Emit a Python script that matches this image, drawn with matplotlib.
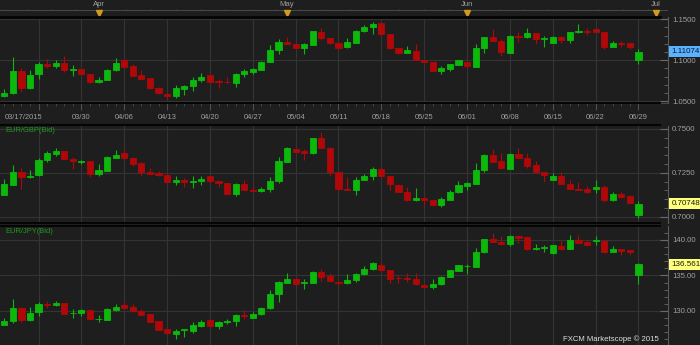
"""FXCM Marketscope style 3-pane daily candle chart: EUR/USD, EUR/GBP, EUR/JPY."""
import numpy as np
import pandas as pd
import matplotlib
matplotlib.use('Agg')
import matplotlib.pyplot as plt
import matplotlib.transforms as mtransforms
from matplotlib.ticker import MultipleLocator, FormatStrFormatter

plt.rcParams['font.family'] = ['Liberation Sans', 'DejaVu Sans']

# trading days shown (weekdays 03/17 .. 06/29/2015)
dates = pd.bdate_range('2015-03-17', '2015-06-29')

# EUR/USD daily OHLC
usd_open = [1.0565, 1.0598, 1.0866, 1.0659, 1.0837, 1.0955, 1.0927, 1.0972, 1.0886, 1.0890,
            1.0833, 1.0732, 1.0760, 1.0882, 1.1004, 1.0927, 1.0817, 1.0780, 1.0663, 1.0590,
            1.0565, 1.0654, 1.0687, 1.0760, 1.0817, 1.0748, 1.0740, 1.0728, 1.0829, 1.0862,
            1.0882, 1.0980, 1.1126, 1.1224, 1.1195, 1.1150, 1.1191, 1.1350, 1.1272, 1.1207,
            1.1159, 1.1215, 1.1354, 1.1411, 1.1451, 1.1321, 1.1150, 1.1093, 1.1118, 1.1004,
            1.0984, 1.0874, 1.0898, 1.0943, 1.0984, 1.0923, 1.1146, 1.1280, 1.1236, 1.1093,
            1.1301, 1.1280, 1.1329, 1.1260, 1.1211, 1.1285, 1.1248, 1.1341, 1.1358, 1.1382,
            1.1346, 1.1167, 1.1207, 1.1207, 1.1004]
usd_high = [1.0650, 1.1037, 1.0911, 1.0878, 1.0980, 1.1020, 1.1008, 1.1053, 1.0939, 1.0894,
            1.0837, 1.0797, 1.0894, 1.1024, 1.1028, 1.0951, 1.0882, 1.0789, 1.0671, 1.0590,
            1.0699, 1.0703, 1.0801, 1.0846, 1.0821, 1.0772, 1.0793, 1.0846, 1.0898, 1.0907,
            1.0992, 1.1183, 1.1264, 1.1280, 1.1207, 1.1215, 1.1358, 1.1390, 1.1276, 1.1207,
            1.1276, 1.1370, 1.1431, 1.1467, 1.1451, 1.1325, 1.1154, 1.1179, 1.1203, 1.1004,
            1.0984, 1.0927, 1.0959, 1.1004, 1.0988, 1.1195, 1.1285, 1.1378, 1.1256, 1.1305,
            1.1346, 1.1390, 1.1333, 1.1297, 1.1293, 1.1293, 1.1350, 1.1439, 1.1394, 1.1386,
            1.1350, 1.1236, 1.1232, 1.1220, 1.1138]
usd_low = [1.0557, 1.0590, 1.0618, 1.0650, 1.0776, 1.0911, 1.0911, 1.0862, 1.0809, 1.0833,
           1.0720, 1.0720, 1.0756, 1.0870, 1.0919, 1.0809, 1.0772, 1.0654, 1.0594, 1.0520,
           1.0545, 1.0577, 1.0630, 1.0736, 1.0736, 1.0667, 1.0720, 1.0671, 1.0793, 1.0829,
           1.0878, 1.0980, 1.1081, 1.1195, 1.1146, 1.1073, 1.1187, 1.1248, 1.1195, 1.1154,
           1.1146, 1.1207, 1.1346, 1.1325, 1.1313, 1.1134, 1.1073, 1.1085, 1.1004, 1.0980,
           1.0870, 1.0829, 1.0874, 1.0939, 1.0907, 1.0919, 1.1089, 1.1232, 1.1057, 1.1093,
           1.1224, 1.1272, 1.1195, 1.1163, 1.1207, 1.1215, 1.1207, 1.1337, 1.1305, 1.1346,
           1.1142, 1.1163, 1.1163, 1.1138, 1.0959]
usd_close = [1.0602, 1.0866, 1.0663, 1.0817, 1.0955, 1.0927, 1.0972, 1.0886, 1.0894, 1.0837,
             1.0732, 1.0764, 1.0882, 1.0972, 1.0923, 1.0813, 1.0776, 1.0659, 1.0598, 1.0569,
             1.0659, 1.0691, 1.0764, 1.0801, 1.0740, 1.0736, 1.0732, 1.0833, 1.0870, 1.0894,
             1.0984, 1.1130, 1.1224, 1.1195, 1.1150, 1.1195, 1.1354, 1.1272, 1.1211, 1.1154,
             1.1220, 1.1358, 1.1411, 1.1447, 1.1317, 1.1154, 1.1093, 1.1122, 1.1008, 1.0984,
             1.0874, 1.0907, 1.0951, 1.1000, 1.0927, 1.1150, 1.1280, 1.1236, 1.1106, 1.1297,
             1.1289, 1.1329, 1.1256, 1.1268, 1.1289, 1.1248, 1.1341, 1.1358, 1.1350, 1.1346,
             1.1167, 1.1207, 1.1199, 1.1167, 1.1107]

# EUR/GBP daily OHLC
gbp_open = [0.7124, 0.7183, 0.7255, 0.7226, 0.7238, 0.7321, 0.7357, 0.7375, 0.7331, 0.7314,
            0.7318, 0.7245, 0.7262, 0.7337, 0.7363, 0.7337, 0.7304, 0.7253, 0.7247, 0.7240,
            0.7198, 0.7209, 0.7198, 0.7202, 0.7230, 0.7203, 0.7192, 0.7127, 0.7186, 0.7152,
            0.7146, 0.7156, 0.7202, 0.7314, 0.7388, 0.7375, 0.7361, 0.7449, 0.7394, 0.7253,
            0.7158, 0.7152, 0.7211, 0.7232, 0.7274, 0.7232, 0.7183, 0.7139, 0.7093, 0.7107,
            0.7095, 0.7065, 0.7097, 0.7139, 0.7177, 0.7186, 0.7266, 0.7352, 0.7318, 0.7272,
            0.7356, 0.7337, 0.7293, 0.7257, 0.7209, 0.7234, 0.7188, 0.7160, 0.7156, 0.7156,
            0.7167, 0.7097, 0.7131, 0.7116, 0.7011]
gbp_high = [0.7215, 0.7295, 0.7278, 0.7264, 0.7337, 0.7376, 0.7390, 0.7376, 0.7342, 0.7325,
            0.7319, 0.7300, 0.7348, 0.7380, 0.7380, 0.7338, 0.7314, 0.7278, 0.7262, 0.7243,
            0.7234, 0.7222, 0.7232, 0.7232, 0.7232, 0.7207, 0.7194, 0.7194, 0.7211, 0.7173,
            0.7169, 0.7224, 0.7338, 0.7395, 0.7388, 0.7388, 0.7451, 0.7485, 0.7395, 0.7255,
            0.7224, 0.7226, 0.7241, 0.7283, 0.7276, 0.7234, 0.7186, 0.7167, 0.7162, 0.7109,
            0.7095, 0.7112, 0.7150, 0.7202, 0.7196, 0.7306, 0.7356, 0.7388, 0.7361, 0.7361,
            0.7390, 0.7363, 0.7319, 0.7257, 0.7251, 0.7253, 0.7209, 0.7198, 0.7173, 0.7209,
            0.7179, 0.7139, 0.7139, 0.7124, 0.7091]
gbp_low = [0.7124, 0.7181, 0.7156, 0.7222, 0.7234, 0.7310, 0.7348, 0.7327, 0.7270, 0.7299,
           0.7226, 0.7232, 0.7260, 0.7333, 0.7335, 0.7289, 0.7230, 0.7241, 0.7232, 0.7198,
           0.7183, 0.7169, 0.7165, 0.7179, 0.7194, 0.7171, 0.7127, 0.7120, 0.7152, 0.7146,
           0.7139, 0.7143, 0.7194, 0.7310, 0.7371, 0.7321, 0.7359, 0.7390, 0.7230, 0.7152,
           0.7152, 0.7124, 0.7207, 0.7211, 0.7228, 0.7152, 0.7139, 0.7091, 0.7091, 0.7067,
           0.7063, 0.7057, 0.7095, 0.7137, 0.7150, 0.7184, 0.7257, 0.7312, 0.7274, 0.7270,
           0.7335, 0.7276, 0.7249, 0.7200, 0.7207, 0.7184, 0.7158, 0.7152, 0.7135, 0.7137,
           0.7082, 0.7091, 0.7105, 0.7078, 0.6991]
gbp_close = [0.7186, 0.7255, 0.7226, 0.7234, 0.7323, 0.7361, 0.7375, 0.7329, 0.7316, 0.7316,
             0.7245, 0.7264, 0.7340, 0.7352, 0.7337, 0.7302, 0.7253, 0.7245, 0.7240, 0.7200,
             0.7209, 0.7198, 0.7202, 0.7217, 0.7203, 0.7190, 0.7131, 0.7186, 0.7154, 0.7148,
             0.7158, 0.7203, 0.7316, 0.7394, 0.7371, 0.7365, 0.7449, 0.7390, 0.7255, 0.7156,
             0.7154, 0.7211, 0.7234, 0.7274, 0.7230, 0.7184, 0.7141, 0.7093, 0.7105, 0.7093,
             0.7065, 0.7099, 0.7141, 0.7183, 0.7190, 0.7268, 0.7352, 0.7314, 0.7276, 0.7357,
             0.7335, 0.7289, 0.7255, 0.7240, 0.7234, 0.7186, 0.7160, 0.7154, 0.7143, 0.7169,
             0.7093, 0.7131, 0.7114, 0.7080, 0.70748]

# EUR/JPY daily OHLC
jpy_open = [128.07, 128.54, 130.42, 128.73, 129.86, 130.99, 130.80, 131.13, 129.67, 129.76,
            130.14, 128.83, 128.78, 130.14, 130.80, 130.52, 130.00, 129.58, 128.54, 127.42,
            126.81, 127.32, 127.18, 127.89, 128.73, 127.89, 128.40, 128.59, 129.39, 129.06,
            129.58, 130.47, 132.35, 133.99, 134.55, 133.90, 133.94, 135.49, 134.88, 134.13,
            133.90, 134.37, 135.21, 135.96, 136.48, 135.77, 134.69, 134.60, 134.46, 133.71,
            133.43, 133.76, 134.79, 135.63, 136.29, 136.24, 138.26, 140.14, 139.72, 139.44,
            140.61, 140.38, 138.73, 138.92, 138.12, 139.20, 138.73, 140.00, 139.72, 139.91,
            139.91, 138.36, 138.69, 138.54, 135.12]
jpy_high = [129.06, 131.69, 130.52, 130.56, 131.31, 131.46, 131.41, 131.15, 130.28, 130.23,
            130.19, 129.44, 130.38, 130.99, 131.27, 130.99, 130.23, 129.60, 128.59, 127.45,
            127.51, 127.48, 128.50, 128.73, 128.78, 128.64, 128.87, 129.53, 130.09, 129.81,
            130.56, 132.91, 134.23, 135.30, 134.65, 134.46, 135.59, 135.96, 135.30, 134.23,
            135.21, 135.40, 136.34, 136.85, 136.81, 135.80, 135.02, 135.30, 135.30, 133.75,
            134.46, 134.93, 135.82, 136.53, 136.67, 138.83, 140.19, 141.03, 140.56, 140.75,
            140.75, 140.61, 139.48, 139.34, 139.30, 140.05, 140.66, 140.70, 140.05, 140.56,
            139.95, 139.11, 138.78, 138.59, 136.71]
jpy_low = [128.07, 128.36, 128.40, 128.64, 129.34, 130.47, 130.70, 129.60, 129.06, 129.34,
           128.69, 128.45, 128.69, 130.00, 130.42, 129.91, 129.39, 128.45, 127.32, 126.81,
           126.10, 126.29, 126.85, 127.70, 127.79, 127.51, 128.22, 127.89, 128.83, 129.01,
           129.44, 130.33, 131.31, 133.94, 133.82, 133.10, 133.90, 134.27, 134.18, 133.47,
           133.80, 134.04, 135.12, 135.77, 135.68, 133.99, 133.99, 134.08, 133.71, 133.40,
           133.15, 133.71, 134.74, 135.59, 135.26, 136.20, 138.17, 139.67, 139.30, 139.11,
           139.53, 138.54, 138.54, 138.31, 138.08, 138.54, 138.69, 139.58, 139.20, 139.34,
           138.31, 138.31, 137.84, 137.84, 133.85]
jpy_close = [128.59, 130.42, 128.78, 129.72, 130.99, 130.80, 131.13, 129.62, 129.76, 130.14,
             128.83, 128.92, 130.28, 130.52, 130.47, 129.95, 129.44, 128.50, 127.37, 126.85,
             127.23, 127.46, 128.03, 128.45, 127.89, 128.45, 128.59, 129.44, 129.30, 129.58,
             130.47, 132.39, 134.04, 134.55, 133.85, 134.04, 135.49, 134.84, 134.23, 133.94,
             134.41, 135.26, 135.96, 136.71, 135.77, 134.55, 134.60, 134.46, 133.76, 133.43,
             133.80, 134.74, 135.77, 136.48, 136.38, 138.36, 140.14, 139.72, 139.48, 140.61,
             140.33, 138.69, 138.92, 139.06, 139.25, 138.73, 139.95, 139.62, 139.25, 140.00,
             138.36, 138.73, 138.50, 138.36, 136.561]

last_usd = '1.11074'
last_gbp = '0.70748'
last_jpy = '136.561'
title_gbp = 'EUR/GBP(Bid)'
title_jpy = 'EUR/JPY(Bid)'
watermark = 'FXCM Marketscope \u00a9 2015'

BG = '#1e1e1e'
GRID = '#343434'
TXT = '#a0a0a0'
UP = '#0bb80b'
DN = '#b00808'
W, H = 700, 345
X_RIGHT = 668          # y-axis spine (px)
XLIM = (-0.5, 77.45)

fig = plt.figure(figsize=(W / 100, H / 100), dpi=100, facecolor=BG)


def rect(y0, y1):
    return [0, 1 - y1 / H, X_RIGHT / W, (y1 - y0) / H]


# week starts (Mondays) for vertical grid and date labels
idx = np.arange(len(dates))
mondays = idx[dates.dayofweek == 0]


def candles(ax, o, h, l, c):
    o, h, l, c = map(np.asarray, (o, h, l, c))
    col = np.where(c >= o, UP, DN)
    ax.vlines(idx, l, h, colors=col, lw=0.8, zorder=3)
    ax.bar(idx, np.abs(c - o), bottom=np.minimum(o, c), width=0.72,
           color=col, edgecolor=col, linewidth=0.6, zorder=4)


def style(ax, ylim, major, fmt):
    ax.set_facecolor(BG)
    ax.set_xlim(*XLIM)
    ax.set_ylim(*ylim)
    ax.yaxis.tick_right()
    ax.yaxis.set_major_locator(MultipleLocator(major))
    ax.yaxis.set_minor_locator(MultipleLocator(major / 5))
    ax.yaxis.set_major_formatter(FormatStrFormatter(fmt))
    ax.tick_params(axis='y', which='both', direction='in', color='#6a6a6a',
                   labelcolor=TXT, labelsize=5.6, pad=3)
    ax.tick_params(axis='y', which='major', length=6, width=0.8)
    ax.tick_params(axis='y', which='minor', length=3, width=0.6)
    ax.set_xticks(mondays)
    ax.tick_params(axis='x', length=0, labelbottom=False)
    ax.grid(True, which='major', color=GRID, lw=0.8)
    for s in ('left', 'top', 'bottom'):
        ax.spines[s].set_visible(False)
    ax.spines['right'].set_color('#5a5a5a')
    ax.spines['right'].set_linewidth(0.8)


def price_tag(ax, value, text, face, fg):
    tr = mtransforms.blended_transform_factory(ax.transAxes, ax.transData)
    ax.text(1.005, value, text, transform=tr, ha='left', va='center',
            fontsize=5.8, color=fg, clip_on=False, zorder=10,
            bbox=dict(boxstyle='square,pad=0.25', facecolor=face,
                      edgecolor='none'))


# --- panes ---
ax1 = fig.add_axes(rect(17, 103))
ax2 = fig.add_axes(rect(126, 223))
ax3 = fig.add_axes(rect(226, 345))

style(ax1, (1.0479, 1.1528), 0.05, '%.4f')
style(ax2, (0.6964, 0.7517), 0.025, '%.4f')
style(ax3, (125.2, 141.97), 5, '%.2f')

candles(ax1, usd_open, usd_high, usd_low, usd_close)
candles(ax2, gbp_open, gbp_high, gbp_low, gbp_close)
candles(ax3, jpy_open, jpy_high, jpy_low, jpy_close)

price_tag(ax1, usd_close[-1], last_usd, '#5ab2ff', '#0a1a33')
price_tag(ax2, gbp_close[-1], last_gbp, '#ffff80', '#1a1a00')
price_tag(ax3, jpy_close[-1], last_jpy, '#ffff80', '#1a1a00')

for ax, t in ((ax2, title_gbp), (ax3, title_jpy)):
    ax.text(0.008, 0.985, t, transform=ax.transAxes, ha='left', va='top',
            fontsize=5.4, color='#1f9a1f')

# --- header strip with month markers ---
axh = fig.add_axes(rect(0, 17))
axh.set_facecolor(BG)
axh.set_xlim(*XLIM)
axh.set_ylim(17, 0)
axh.axis('off')
axh.axhline(10, color='#4a4a4a', lw=0.7)
axh.vlines(np.arange(XLIM[0] + 0.2, XLIM[1], 2.9), 8.5, 10, color='#4a4a4a', lw=0.6)
cal = pd.bdate_range(dates[0], '2015-07-31')
for m in ('2015-04-01', '2015-05-01', '2015-06-01', '2015-07-01'):
    pos = cal.get_loc(pd.Timestamp(m))
    axh.text(pos, 4.5, pd.Timestamp(m).strftime('%b'), ha='center',
             va='center', fontsize=5.6, color=TXT)
    axh.plot(pos, 12.8, marker='v', ms=4.2, color='#d49a1c', mec='#d49a1c',
             clip_on=False)

# --- date strip ---
axd = fig.add_axes(rect(103, 125))
axd.set_facecolor(BG)
axd.set_xlim(*XLIM)
axd.set_ylim(0, 1)
for s in ('left', 'right', 'bottom'):
    axd.spines[s].set_visible(False)
axd.spines['top'].set_color('#4a4a4a')
axd.xaxis.set_ticks_position('top')
axd.set_xticks(mondays)
axd.set_xticks(idx, minor=True)
axd.tick_params(axis='x', which='both', direction='in', color='#4f4f4f',
                labeltop=False, labelbottom=False)
axd.tick_params(axis='x', which='major', length=5, width=0.8)
axd.tick_params(axis='x', which='minor', length=2.5, width=0.6)
axd.set_yticks([])
axd.text(0, 0.33, dates[0].strftime('%m/%d/%Y'), ha='left', va='center',
         fontsize=5.4, color=TXT)
for i in mondays[1:]:
    axd.text(i, 0.33, dates[i].strftime('%m/%d'), ha='center', va='center',
             fontsize=5.4, color=TXT)

# --- separators ---
for y, lw in ((17, 2.0), (103, 1.4), (125, 1.6), (223, 1.4), (226, 1.4)):
    fig.add_artist(plt.Line2D([0, 660 / W], [1 - y / H] * 2,
                              transform=fig.transFigure, color='#050505', lw=lw))

fig.text(659 / W, 1 - 339 / H, watermark, ha='right', va='center',
         fontsize=5.6, color='#e0e0e0')

fig.savefig('out.png', dpi=100, facecolor=BG)
